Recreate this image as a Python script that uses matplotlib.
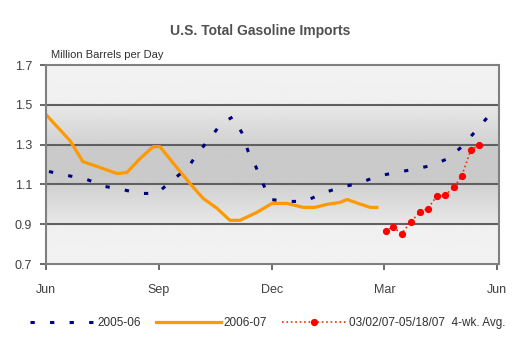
import numpy as np
import matplotlib.pyplot as plt

plt.rcParams['font.family'] = ['Liberation Sans', 'DejaVu Sans']

# DATA (x in months after June 1st)

x_0506 = [0.08, 0.58, 1.09, 1.57, 2.02, 2.5, 2.95, 3.35, 3.78, 4.04, 4.36, 4.65, 4.97,
          5.21, 5.37, 5.58, 5.77, 5.96, 6.41, 6.89, 7.34, 7.82, 8.30, 8.80, 9.28, 9.76,
          10.24, 10.69, 11.06, 11.41, 11.73, 11.95]
y_0506 = [1.165, 1.145, 1.125, 1.09, 1.075, 1.055, 1.055, 1.12, 1.185, 1.26, 1.33, 1.405, 1.44,
          1.36, 1.27, 1.19, 1.105, 1.025, 1.015, 1.015, 1.055, 1.085, 1.105, 1.14, 1.16, 1.175,
          1.195, 1.23, 1.29, 1.365, 1.435, 1.47]

x_0607 = [0.03, 0.64, 0.98, 1.44, 1.89, 2.15, 2.5, 2.85, 3.03, 3.48, 3.83, 4.18, 4.55,
          4.89, 5.16, 5.61, 6.01, 6.41, 6.84, 7.15, 7.47, 7.82, 8.01, 8.30, 8.62, 8.80]
y_0607 = [1.445, 1.32, 1.215, 1.185, 1.155, 1.16, 1.23, 1.29, 1.29, 1.185, 1.105, 1.03, 0.98,
          0.92, 0.92, 0.96, 1.005, 1.005, 0.985, 0.985, 1.0, 1.01, 1.025, 1.005, 0.985, 0.985]

x_avg = [9.03, 9.22, 9.46, 9.70, 9.95, 10.15, 10.39, 10.62, 10.86, 11.06, 11.30, 11.52]
y_avg = [0.865, 0.887, 0.853, 0.912, 0.962, 0.978, 1.04, 1.048, 1.087, 1.145, 1.273, 1.298]

month_pos = [0, 3, 6, 9, 12]
month_labels = ['Jun', 'Sep', 'Dec', 'Mar', 'Jun']
y_ticks = [0.7, 0.9, 1.1, 1.3, 1.5, 1.7]

fig = plt.figure(figsize=(5.25, 3.39), dpi=100)
ax = fig.add_axes([0.0876, 0.221, 0.863, 0.587])

# banded grey background
yy = np.linspace(0.7, 1.7, 400)
shade = np.interp(yy, [0.7, 0.8999, 0.9, 1.0999, 1.1, 1.3, 1.3001, 1.4999, 1.5, 1.7],
                  [0.95, 0.94, 0.91, 0.82, 0.79, 0.79, 0.82, 0.91, 0.94, 0.95])
ax.imshow(shade[:, None], extent=[0, 12.05, 0.7, 1.7], origin='lower', aspect='auto',
          cmap='gray', vmin=0, vmax=1, zorder=0)

for g in [0.9, 1.1, 1.3, 1.5]:
    ax.axhline(g, color='#606060', lw=1.5, zorder=1)

l1, = ax.plot(x_0506, y_0506, color='#000080', lw=2.2, label='2005-06', zorder=3)
l1.set_dashes((1.4, 5))
ax.plot(x_0607, y_0607, color='#ff9900', lw=2.3, label='2006-07', zorder=2)
ax.plot(x_avg, y_avg, color='#ff2a00', lw=1.2, ls=':', marker='o', ms=4.2,
        markerfacecolor='red', markeredgecolor='red', label='03/02/07-05/18/07  4-wk. Avg.',
        zorder=4)

ax.set_xlim(0, 12.05)
ax.set_ylim(0.7, 1.7)
ax.set_xticks(month_pos)
ax.set_xticklabels(month_labels)
ax.set_yticks(y_ticks)
ax.set_yticklabels([f'{v:.1f}' for v in y_ticks])
ax.tick_params(axis='both', colors='#505050', labelcolor='#404040', labelsize=9,
               length=4, width=1.2, direction='out')
ax.tick_params(axis='x', pad=10)
ax.tick_params(axis='y', pad=6)
for s in ax.spines.values():
    s.set_color('#808080')
    s.set_linewidth(1.5)

fig.text(0.495, 0.908, 'U.S. Total Gasoline Imports', ha='center', va='center',
         fontsize=10, fontweight='bold', color='#505050')
fig.text(0.097, 0.838, 'Million Barrels per Day', ha='left', va='center',
         fontsize=8, color='#303030')

fig.legend(loc='center', bbox_to_anchor=(0.51, 0.047), ncol=3, frameon=False,
           fontsize=8.5, handlelength=5.5, columnspacing=1.3, handletextpad=0.2,
           labelcolor='#303030')

plt.savefig('out.png', dpi=100)
